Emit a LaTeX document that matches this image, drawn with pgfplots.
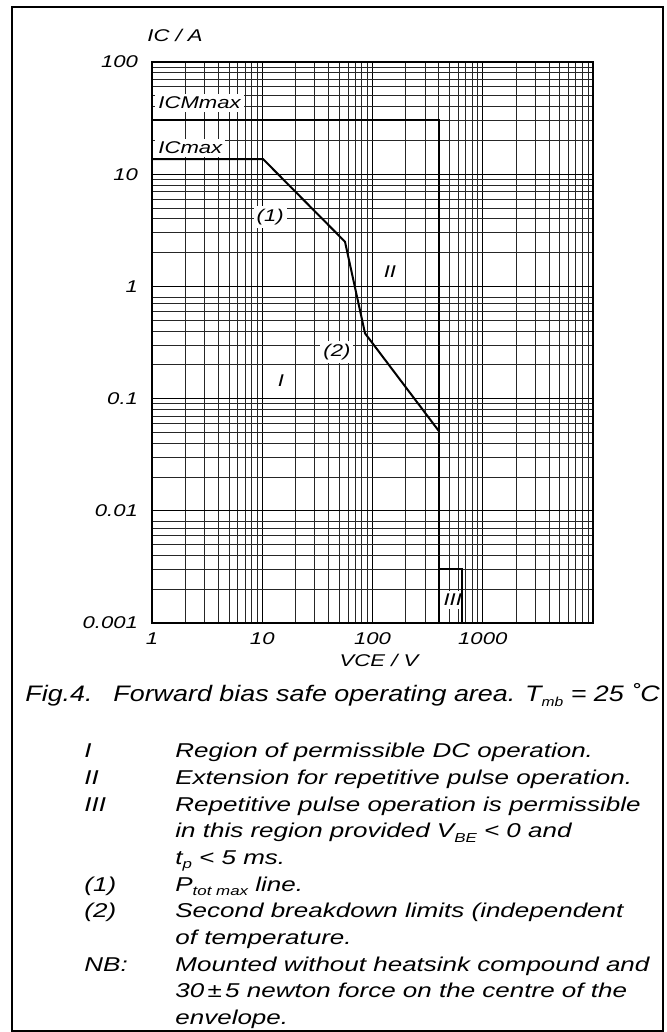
\documentclass[border=0pt]{standalone}
\usepackage{pgfplots}
\pgfplotsset{compat=1.18}
\usepackage{fontspec}
\setmainfont{Liberation Sans}[FakeStretch=1.3]
\newfontfamily\capfont{Liberation Sans}[FakeStretch=1.2]
\newcommand\sub[2][6.5]{\raisebox{-0.4ex}{\fontsize{#1}{7}\selectfont #2}}

% safe operating area, log-log
\begin{document}
\begin{tikzpicture}
\useasboundingbox (0,0) rectangle (333.5pt,516pt);
\draw[line width=1.1pt] (6pt,0.5pt) rectangle (331.5pt,512.5pt);

\begin{axis}[
    at={(76pt,204.5pt)}, anchor=south west,
    scale only axis,
    width=220.5pt, height=280.5pt,
    xmode=log, ymode=log,
    xmin=1, xmax=10000,
    ymin=0.001, ymax=100,
    xtick={1,10,100,1000},
    xticklabels={1,10,100,1000},
    ytick={0.001,0.01,0.1,1,10,100},
    yticklabels={0.001,0.01,0.1,1,10,100},
    minor xtick={2,3,...,9,20,30,...,90,200,300,...,900,2000,3000,...,9000},
    minor ytick={0.002,0.003,...,0.009,0.02,0.03,...,0.09,0.2,0.3,...,0.9,2,3,...,9,20,30,...,90},
    grid=both,
    major grid style={black, line width=0.5pt},
    minor grid style={black!85, line width=0.45pt},
    major tick length=0pt, minor tick length=0pt,
    axis line style={black, line width=0.6pt},
    /pgf/number format/assume math mode=true,
    ticklabel style={font=\itshape\fontsize{8.5}{9}\selectfont},
    xticklabel style={yshift=-1.5pt},
    yticklabel style={xshift=-3.5pt},
]

% region labels first, so the curves stay on top
\begin{scope}[every node/.style={fill=white, inner sep=1.5pt, font=\itshape\fontsize{8.5}{9}\selectfont}]
\node[anchor=west] at (axis cs:1.065,43.1) {ICMmax};
\node[anchor=west] at (axis cs:1.065,17.1) {ICmax};
\node at (axis cs:11.8,4.16) {(1)};
\node at (axis cs:144,1.34) {II};
\node at (axis cs:47.6,0.262) {(2)};
\node at (axis cs:14.8,0.1435) {I};
\node at (axis cs:535,0.0016) {III};
\end{scope}

% ICM max
\addplot[black, line width=1pt] coordinates {
    (1,30.4) (400,30.4) (400,0.001)
};
% IC max, Ptot line, second breakdown
\addplot[black, line width=1pt] coordinates {
    (1,13.6) (10.2,13.6) (56.3,2.50) (85.5,0.382) (404,0.0507)
};
% region III
\addplot[black, line width=1pt] coordinates {
    (400,0.003) (648,0.003) (648,0.001)
};
\end{axis}

\begin{scope}[x=0.5pt,y=0.5pt]
% axis titles
\node[anchor=base west, inner sep=0pt, font=\itshape\fontsize{8.5}{9}\selectfont] at (147,990) {IC / A};
\node[anchor=base, inner sep=0pt, font=\itshape\fontsize{8.5}{9}\selectfont] at (379,365) {VCE / V};

% caption
\begin{scope}[every node/.style={anchor=base west, inner sep=0pt, font=\capfont\itshape\fontsize{11.2}{13}\selectfont}]
\node at (25,330) {Fig.4.};
\node at (113,330) {Forward bias safe operating area. T\sub[6.5]{mb} = 25 ˚C};
\end{scope}

% notes
\begin{scope}[every node/.style={anchor=base west, inner sep=0pt, font=\itshape\fontsize{10}{11}\selectfont}]
\node at (84,274) {I};
\node at (175,274) {Region of permissible DC operation.};
\node at (84,247.35) {II};
\node at (175,247.35) {Extension for repetitive pulse operation.};
\node at (84,220.7) {III};
\node at (175,220.7) {Repetitive pulse operation is permissible};
\node at (175,194.05) {in this region provided V\sub{BE} < 0 and};
\node at (175,167.4) {t\sub{p} < 5 ms.};
\node at (84,140.75) {(1)};
\node at (175,140.75) {P\sub{tot max} line.};
\node at (84,114.1) {(2)};
\node at (175,114.1) {Second breakdown limits (independent};
\node at (175,87.45) {of temperature.};
\node at (84,60.8) {NB:};
\node at (175,60.8) {Mounted without heatsink compound and};
\node at (175,34.15) {30\,±\,5 newton force on the centre of the};
\node at (175,7.5) {envelope.};
\end{scope}
\end{scope}
\end{tikzpicture}
\end{document}
